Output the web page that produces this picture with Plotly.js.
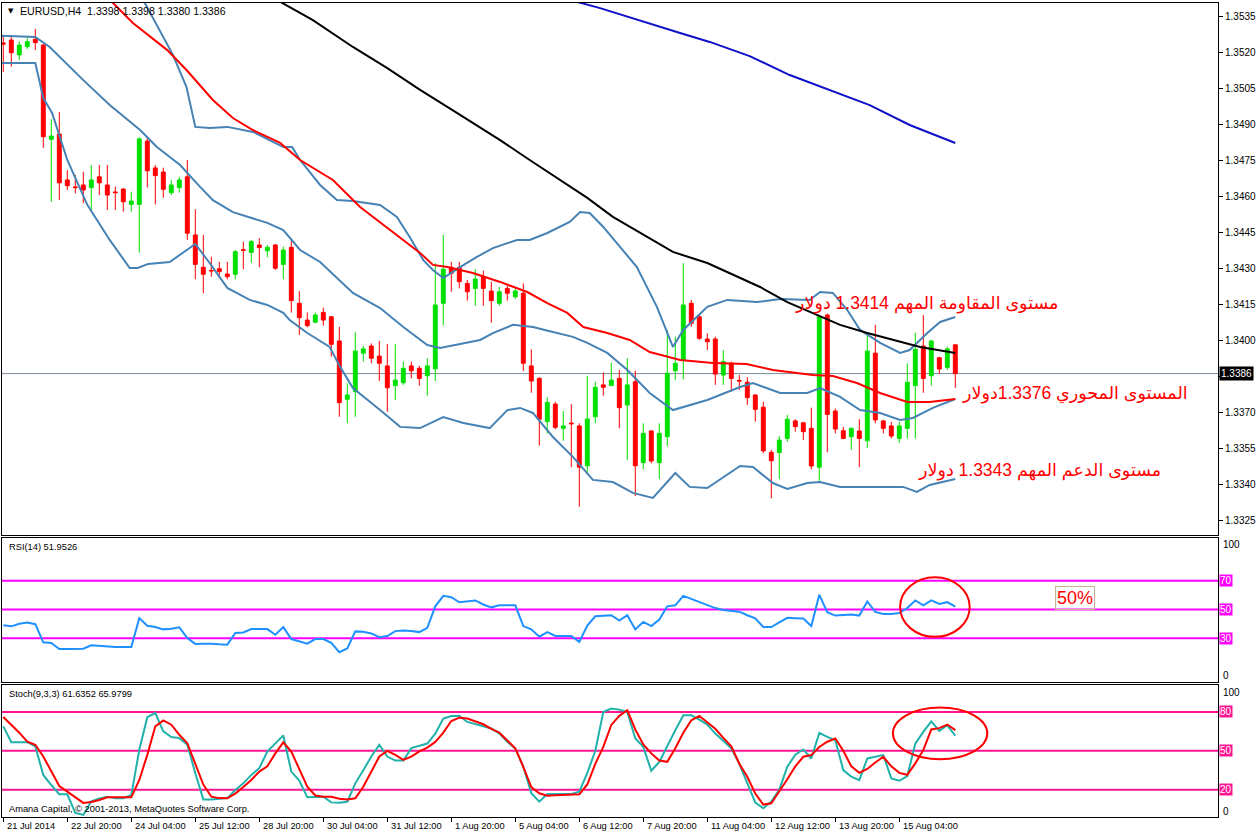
<!DOCTYPE html>
<html><head><meta charset="utf-8">
<script src="https://cdn.plot.ly/plotly-3.0.1.min.js"></script>
<style>html,body{margin:0;padding:0;background:#fff;}#chart{width:1258px;height:835px;}</style>
</head><body><div id="chart"></div>
<script>
// ---------- DATA ----------
const barIndex = Array.from({length:120},(_,i)=>i);
const openP = [1.35238,1.35250,1.35188,1.35222,1.35253,1.35229,1.34836,1.34858,1.34667,1.34638,
1.34646,1.34635,1.34680,1.34646,1.34617,1.34629,1.34565,1.34565,1.34829,1.34717,
1.34700,1.34614,1.34635,1.34680,1.34438,1.34303,1.34290,1.34297,1.34275,1.34274,
1.34376,1.34365,1.34396,1.34372,1.34396,1.34315,1.34386,1.34153,1.34083,1.34074,
1.34115,1.34097,1.33996,1.33753,1.33785,1.33945,1.33975,1.33933,1.33892,1.33810,
1.33822,1.33892,1.33882,1.33851,1.33880,1.34153,1.34303,1.34303,1.34236,1.34215,
1.34264,1.34204,1.34153,1.34215,1.34180,1.34195,1.33892,1.33840,1.33660,1.33733,
1.33632,1.33654,1.33642,1.33476,1.33680,1.33813,1.33810,1.33840,1.33729,1.33826,
1.33489,1.33621,1.33489,1.33597,1.33872,1.33917,1.34153,1.34097,1.34004,1.34004,
1.33854,1.33903,1.33832,1.33824,1.33771,1.33720,1.33532,1.33531,1.33590,1.33663,
1.33655,1.33632,1.33470,1.34104,1.33704,1.33622,1.33597,1.33621,1.33580,1.33945,
1.33663,1.33642,1.33590,1.33632,1.33810,1.33975,1.33851,1.33926,1.33886,1.33980];
const highP = [1.35267,1.35267,1.35243,1.35258,1.35296,1.35233,1.34920,1.34950,1.34708,1.34688,
1.34701,1.34729,1.34729,1.34729,1.34639,1.34632,1.34618,1.34845,1.34840,1.34729,
1.34718,1.34667,1.34680,1.34750,1.34545,1.34438,1.34347,1.34326,1.34326,1.34375,
1.34410,1.34417,1.34424,1.34396,1.34400,1.34389,1.34424,1.34204,1.34115,1.34115,
1.34135,1.34100,1.34055,1.33820,1.34032,1.33975,1.33986,1.33996,1.33983,1.33983,
1.33910,1.33910,1.33893,1.33924,1.34320,1.34438,1.34326,1.34326,1.34250,1.34295,
1.34289,1.34243,1.34222,1.34225,1.34215,1.34236,1.33961,1.33845,1.33761,1.33743,
1.33704,1.33733,1.33653,1.33851,1.33826,1.33864,1.33905,1.33875,1.33924,1.33872,
1.33653,1.33625,1.33653,1.34042,1.34014,1.34320,1.34167,1.34104,1.34028,1.34014,
1.33958,1.33910,1.33854,1.33845,1.33774,1.33743,1.33542,1.33600,1.33688,1.33670,
1.33659,1.33718,1.34100,1.34110,1.33715,1.33639,1.33635,1.33670,1.34028,1.34063,
1.33667,1.33659,1.33659,1.33903,1.34030,1.34104,1.34000,1.33930,1.33972,1.33980];
const lowP = [1.35117,1.35139,1.35167,1.35213,1.35208,1.34800,1.34576,1.34583,1.34625,1.34611,
1.34570,1.34535,1.34604,1.34542,1.34542,1.34535,1.34535,1.34364,1.34636,1.34565,
1.34593,1.34604,1.34614,1.34417,1.34253,1.34195,1.34264,1.34257,1.34253,1.34253,
1.34295,1.34322,1.34303,1.34345,1.34292,1.34253,1.34114,1.34021,1.34053,1.34070,
1.34060,1.33930,1.33680,1.33653,1.33680,1.33910,1.33903,1.33829,1.33701,1.33750,
1.33813,1.33840,1.33810,1.33768,1.33829,1.34060,1.34201,1.34215,1.34164,1.34143,
1.34143,1.34072,1.34143,1.34164,1.34171,1.33871,1.33780,1.33560,1.33611,1.33628,
1.33580,1.33470,1.33305,1.33438,1.33653,1.33768,1.33808,1.33632,1.33500,1.33350,
1.33461,1.33486,1.33420,1.33558,1.33833,1.33836,1.34055,1.34000,1.33958,1.33813,
1.33813,1.33785,1.33792,1.33729,1.33660,1.33528,1.33340,1.33420,1.33576,1.33618,
1.33583,1.33461,1.33410,1.33532,1.33611,1.33586,1.33542,1.33470,1.33549,1.33653,
1.33611,1.33590,1.33572,1.33590,1.33590,1.33780,1.33810,1.33858,1.33875,1.33800];
const closeP = [1.35233,1.35197,1.35229,1.35243,1.35239,1.34847,1.34850,1.34655,1.34643,1.34635,
1.34625,1.34667,1.34655,1.34604,1.34614,1.34576,1.34579,1.34838,1.34705,1.34685,
1.34628,1.34646,1.34667,1.34445,1.34315,1.34274,1.34288,1.34285,1.34264,1.34368,
1.34374,1.34410,1.34385,1.34386,1.34299,1.34375,1.34164,1.34093,1.34060,1.34104,
1.34083,1.33982,1.33739,1.33771,1.33954,1.33963,1.33924,1.33903,1.33801,1.33833,
1.33882,1.33872,1.33840,1.33892,1.34146,1.34295,1.34278,1.34243,1.34201,1.34254,
1.34215,1.34164,1.34201,1.34195,1.34204,1.33903,1.33829,1.33670,1.33740,1.33636,
1.33642,1.33651,1.33470,1.33671,1.33803,1.33803,1.33833,1.33718,1.33813,1.33476,
1.33611,1.33496,1.33611,1.33861,1.33903,1.34146,1.34070,1.34007,1.33993,1.33858,
1.33910,1.33840,1.33829,1.33760,1.33711,1.33538,1.33497,1.33583,1.33670,1.33639,
1.33618,1.33475,1.34097,1.33690,1.33629,1.33590,1.33632,1.33590,1.33954,1.33667,
1.33632,1.33600,1.33642,1.33824,1.33961,1.33840,1.33996,1.33879,1.33963,1.33860];

// Bollinger bands (upper / middle / lower), read at bar positions
const bbUpperX = [15,17.5,21.2,22.9,24,25.8,28,31.2,35,36.1,37.1,39.6,41.7,43.7,47.1,49.2,50.8,52.5,53.7,55,57.1,59.2,61.2,64.2,65.8,68,70.8,72.1,73.3,75,77.1,79.2,81.7,83.7,85,88,90.5,94.2,97.1,100.8,102.1,103.7,105.5,107.1,109.6,112.1,113.3,115.5,117.1,119];
const bbUpperY = [1.35570,1.35417,1.35188,1.35054,1.34888,1.34883,1.34888,1.34867,1.34804,1.34804,1.34750,1.34646,1.34583,1.34579,1.34563,1.34513,1.34429,1.34333,1.34292,1.34258,1.34304,1.34346,1.34383,1.34417,1.34417,1.34446,1.34492,1.34533,1.34529,1.34471,1.34388,1.34304,1.34138,1.33971,1.34042,1.34138,1.34167,1.34158,1.34171,1.34167,1.34200,1.34196,1.34125,1.34042,1.33988,1.33946,1.33958,1.34029,1.34075,1.34096];
const bbMidX = [-0.5,4,5.8,10,13.3,17.1,19.2,22.1,24.6,26.2,28.7,33,35,37.1,39.6,43.7,47.1,50,53,54.6,59.6,61.2,63.7,66.2,68.7,71.2,73,75.5,78,80.8,83.7,88,92.1,93.7,97.1,100.5,102.1,104.6,107.1,109.6,112.1,113.7,116.2,119];
const bbMidY = [1.35268,1.35263,1.35221,1.35083,1.34979,1.34875,1.34804,1.34729,1.34638,1.34583,1.34533,1.34488,1.34458,1.34375,1.34325,1.34196,1.34133,1.34054,1.33979,1.33967,1.34000,1.34029,1.34063,1.34054,1.34033,1.34013,1.33988,1.33946,1.33875,1.33779,1.33708,1.33750,1.33804,1.33821,1.33779,1.33779,1.33800,1.33763,1.33708,1.33696,1.33667,1.33675,1.33717,1.33754];
const bbLowX = [-0.5,4,5,6.1,8,10.5,13.3,15.8,16.8,18.1,20.8,24,25.8,28,30.8,33,35,35.8,38,40.8,42.1,43.7,47.1,49.6,52.1,55,57.5,60.8,63,64.6,66.2,68.7,71.2,73.7,76.2,78.7,81.2,84,85.8,88,92.1,93.7,96.2,98,100.5,102.1,104.6,108.7,112.5,114.2,115.8,119];
const bbLowY = [1.35154,1.35154,1.35008,1.34946,1.34750,1.34563,1.34417,1.34300,1.34300,1.34317,1.34325,1.34400,1.34321,1.34217,1.34167,1.34146,1.34113,1.34083,1.34029,1.33971,1.33888,1.33800,1.33708,1.33638,1.33633,1.33679,1.33654,1.33633,1.33708,1.33717,1.33696,1.33596,1.33513,1.33417,1.33408,1.33363,1.33342,1.33446,1.33388,1.33383,1.33475,1.33471,1.33404,1.33379,1.33404,1.33408,1.33388,1.33388,1.33388,1.33367,1.33396,1.33421];

// moving averages
const maRedX = [10,16.2,20.5,22.9,26.2,28.7,31.2,34.6,37.1,41.2,44.6,48.3,52.1,53.7,55.5,58.7,62.1,65.5,68,70.5,72.5,75.5,78.3,80.8,84.6,88.7,92.9,96.2,101.2,103.7,106.7,109.6,113,115.8,119];
const maRedY = [1.35529,1.35321,1.35208,1.35125,1.35000,1.34925,1.34875,1.34821,1.34750,1.34667,1.34554,1.34458,1.34363,1.34313,1.34304,1.34279,1.34242,1.34200,1.34154,1.34113,1.34054,1.34029,1.34000,1.33950,1.33917,1.33904,1.33900,1.33875,1.33854,1.33850,1.33821,1.33779,1.33742,1.33742,1.33754];
const maBlackX = [30,34.2,38.7,43.7,48,52.1,57.1,62.1,65.8,69.6,73,76.2,79.6,83.7,88,91.2,94.6,98,101.2,104.6,108,111.2,114.6,119];
const maBlackY = [1.35533,1.35417,1.35333,1.35221,1.35133,1.35042,1.34938,1.34833,1.34750,1.34667,1.34592,1.34513,1.34446,1.34367,1.34321,1.34271,1.34221,1.34158,1.34113,1.34063,1.34029,1.34000,1.33971,1.33946];
const maBlueX = [66,71.8,74.6,80.8,84.6,88.3,93.3,98.3,103.3,108.3,113.3,119];
const maBlueY = [1.35467,1.35408,1.35383,1.35317,1.35279,1.35242,1.35183,1.35104,1.35042,1.34979,1.34896,1.34821];

// RSI(14)
const rsiVals = [39.0,38.3,40.1,41.0,39.8,27.2,26.8,22.6,22.6,22.6,22.8,25.2,24.7,24.0,24.0,24.0,24.0,44.0,38.7,37.8,
36.2,36.6,37.6,30.2,26.1,26.2,26.3,25.8,25.6,33.7,34.1,36.4,36.4,36.4,32.5,37.8,29.5,27.9,26.3,29.5,
29.5,26.8,20.3,23.0,34.8,34.5,33.4,30.8,31.6,35.0,35.5,35.0,34.3,37.3,52.2,59.5,58.5,55.0,55.5,56.3,
53.5,51.5,52.9,52.9,52.9,38.5,36.2,31.1,34.3,31.6,31.6,31.6,27.5,38.9,45.3,45.6,46.0,42.3,46.0,36.2,
41.4,38.5,43.0,52.2,52.9,59.5,57.5,55.5,53.0,51.0,49.6,49.0,48.5,46.0,43.8,37.8,37.8,41.0,44.2,44.0,
43.7,38.5,60.2,48.1,45.8,46.2,46.5,45.8,55.6,48.3,46.9,46.9,47.5,51.0,56.3,52.9,56.3,53.8,55.1,51.95];
const rsiLevels = [70,50,30];

// Stochastic(9,3,3): main and signal
const stochMain = [68.9,56.7,56.7,56.7,53.4,31.4,23.6,16.4,16.4,2.0,0.5,11.0,13.3,14.6,13.3,13.3,15.9,50.8,76.0,79.2,
65.0,60.6,59.8,54.7,32.7,12.5,12.5,12.8,13.5,19.7,24.9,31.4,36.6,49.5,55.9,61.9,34.0,27.0,14.1,14.6,
14.6,10.2,10.0,10.7,24.9,35.0,45.6,54.7,45.6,42.5,42.5,52.1,54.0,55.6,63.3,74.9,76.9,76.9,72.3,70.5,
69.0,67.2,63.5,57.0,51.8,37.7,17.2,10.8,16.7,16.7,16.7,16.7,18.5,33.0,50.0,80.0,82.6,81.8,80.0,59.5,
53.1,34.6,41.5,54.0,65.9,77.4,77.4,74.0,70.3,63.3,58.0,52.0,40.0,25.0,10.0,5.6,10.8,20.0,37.7,47.0,
51.0,44.1,63.8,60.8,58.2,35.1,30.0,27.4,44.1,45.5,46.7,28.7,26.9,30.5,55.6,64.6,72.8,65.4,69.7,61.64];
const stochSignal = [76.1,70.0,64.0,57.0,54.7,45.6,34.0,22.8,18.5,14.0,9.8,10.5,12.0,14.1,14.1,14.1,14.1,27.5,46.9,68.9,
73.5,70.2,62.4,55.9,40.4,24.0,14.6,13.5,13.3,17.0,22.0,27.5,34.0,38.0,48.0,56.5,49.5,36.0,22.3,15.5,
14.6,14.6,13.0,12.5,13.3,22.3,34.0,45.6,50.0,46.9,43.0,45.5,49.5,52.5,56.9,64.0,73.0,75.6,74.9,72.5,
70.5,67.0,64.0,58.0,52.0,37.7,22.0,17.2,15.4,15.8,16.0,16.2,16.4,24.0,40.0,53.1,70.0,77.0,81.3,66.5,
55.0,48.0,42.5,41.5,52.0,64.0,73.6,76.9,72.0,67.0,60.0,53.5,40.0,30.0,17.0,8.5,9.5,18.5,28.0,38.0,
45.4,46.7,53.0,57.0,59.5,50.0,38.0,33.0,36.0,41.0,45.4,38.0,33.0,31.5,40.3,50.5,66.5,67.5,70.3,65.98];
const stochLevels = [80,50,20];

// axis labels
const priceTicks = [1.3325,1.3340,1.3355,1.3370,1.3385,1.3400,1.3415,1.3430,1.3445,1.3460,1.3475,1.3490,1.3505,1.3520,1.3535];
const priceTickText = ["1.3325","1.3340","1.3355","1.3370","","1.3400","1.3415","1.3430","1.3445","1.3460","1.3475","1.3490","1.3505","1.3520","1.3535"];
const timeTickBars = [0,8,16,24,32,40,48,56,64,72,80,88,96,104,112];
const timeTickLabels = ["21 Jul 2014","22 Jul 20:00","24 Jul 04:00","25 Jul 12:00","28 Jul 20:00","30 Jul 04:00","31 Jul 12:00","1 Aug 20:00","5 Aug 04:00","6 Aug 12:00","7 Aug 20:00","11 Aug 04:00","12 Aug 12:00","13 Aug 20:00","15 Aug 04:00"];
const lastPrice = 1.3386;
const headerText = "EURUSD,H4  1.3398 1.3398 1.3380 1.3386";
const rsiTitle = "RSI(14) 51.9526";
const stochTitle = "Stoch(9,3,3) 61.6352 65.9799";
const copyright = "Amana Capital, © 2001-2013, MetaQuotes Software Corp.";
const noteResistance = "مستوى المقاومة المهم 1.3414 دولار";
const notePivot = "المستوى المحوري 1.3376دولار";
const noteSupport = "مستوى الدعم المهم 1.3343 دولار";
const noteRsi = "50%";

// ---------- LAYOUT HELPERS ----------
const W = 1258, H = 835;
const px = x => x / W;
const py = y => 1 - y / H;
const FONT = "Liberation Sans, Arial, DejaVu Sans, sans-serif";
const xDom = [px(2), px(1218)];
const xRange = [-0.1625, (1218 - 3.3) / 8];

const line = (x, y, color, xa, ya, w) => ({type:'scatter', mode:'lines', x:x, y:y, xaxis:xa, yaxis:ya,
  line:{color:color, width:w||2}, hoverinfo:'skip', showlegend:false});

const traces = [
  {type:'candlestick', x:barIndex, open:openP, high:highP, low:lowP, close:closeP, xaxis:'x', yaxis:'y',
   increasing:{line:{color:'#00E000', width:1}, fillcolor:'#00E000'},
   decreasing:{line:{color:'#FF0000', width:1}, fillcolor:'#FF0000'},
   whiskerwidth:0, hoverinfo:'skip', showlegend:false},
  line(bbUpperX, bbUpperY, '#4682B4', 'x', 'y'),
  line(bbMidX, bbMidY, '#4682B4', 'x', 'y'),
  line(bbLowX, bbLowY, '#4682B4', 'x', 'y'),
  line(maBlackX, maBlackY, '#000000', 'x', 'y'),
  line(maBlueX, maBlueY, '#1010C8', 'x', 'y'),
  line(maRedX, maRedY, '#FF0000', 'x', 'y'),
  line(barIndex, rsiVals, '#1E90FF', 'x2', 'y2'),
  line(barIndex, stochMain, '#20B2AA', 'x3', 'y3'),
  line(barIndex, stochSignal, '#FF0000', 'x3', 'y3')
];

const xCommon = {domain:xDom, range:xRange, showgrid:false, zeroline:false, showline:true, mirror:true,
  linecolor:'#000', linewidth:1, showticklabels:false, ticks:'', fixedrange:true};
const yCommon = {showgrid:false, zeroline:false, showline:true, mirror:true, linecolor:'#000', linewidth:1, fixedrange:true};

const shapes = [];
shapes.push({type:'line', xref:'x domain', x0:0, x1:1, yref:'y', y0:lastPrice, y1:lastPrice,
  line:{color:'#7A8A9A', width:1}, layer:'below'});
rsiLevels.forEach(v => shapes.push({type:'line', xref:'x2 domain', x0:0, x1:1, yref:'y2', y0:v, y1:v,
  line:{color:'#FF00FF', width:2}, layer:'below'}));
stochLevels.forEach(v => shapes.push({type:'line', xref:'x3 domain', x0:0, x1:1, yref:'y3', y0:v, y1:v,
  line:{color:'#FF1493', width:2}, layer:'below'}));
shapes.push({type:'circle', xref:'x2', yref:'y2', x0:112.1, x1:120.8, y0:31, y1:72.4, line:{color:'#FF0000', width:2}});
shapes.push({type:'circle', xref:'x3', yref:'y3', x0:111.2, x1:123.0, y0:43.5, y1:83.5, line:{color:'#FF0000', width:2}});

const ann = [];
const txt = (text, x, y, opts) => Object.assign({text:text, xref:'paper', yref:'paper', x:px(x), y:py(y),
  xanchor:'left', yanchor:'middle', showarrow:false, font:{family:FONT, size:9.3, color:'#000'}}, opts||{});
ann.push(txt('▼', 6, 11, {font:{family:'DejaVu Sans', size:7, color:'#000'}}));
ann.push(txt(headerText, 18, 11, {font:{family:FONT, size:10.6, color:'#000'}}));
ann.push(txt(rsiTitle, 7, 546.5));
ann.push(txt(stochTitle, 7, 694));
ann.push(txt(copyright, 7, 809));
ann.push(txt('100', 1221, 544, {font:{family:FONT, size:10, color:'#000'}}));
ann.push(txt('0', 1221, 675, {font:{family:FONT, size:10, color:'#000'}}));
ann.push(txt('100', 1221, 692, {font:{family:FONT, size:10, color:'#000'}}));
ann.push(txt('0', 1221, 811, {font:{family:FONT, size:10, color:'#000'}}));
rsiLevels.forEach(v => ann.push({text:String(v), xref:'paper', x:px(1219), yref:'y2', y:v, xanchor:'left', yanchor:'middle',
  showarrow:false, bgcolor:'#FF00FF', borderpad:0, font:{family:FONT, size:10, color:'#fff'}}));
stochLevels.forEach(v => ann.push({text:String(v), xref:'paper', x:px(1219), yref:'y3', y:v, xanchor:'left', yanchor:'middle',
  showarrow:false, bgcolor:'#FF1493', borderpad:0, font:{family:FONT, size:10, color:'#fff'}}));
ann.push({text:lastPrice.toFixed(4), xref:'paper', x:px(1219), yref:'y', y:lastPrice, xanchor:'left', yanchor:'middle',
  showarrow:false, bgcolor:'#000', borderpad:1, font:{family:FONT, size:10, color:'#fff'}});
timeTickBars.forEach((b, i) => ann.push({text:timeTickLabels[i], xref:'x3', x:b, xshift:2, yref:'paper', y:py(826),
  xanchor:'left', yanchor:'middle', showarrow:false, font:{family:FONT, size:9.3, color:'#000'}}));
const arab = {family:"Liberation Sans, DejaVu Sans, sans-serif", size:17.5, color:'#FF0000'};
ann.push(txt(noteResistance, 1060, 303, {xanchor:'right', font:arab}));
ann.push(txt(notePivot, 1190, 393, {xanchor:'right', font:arab}));
ann.push(txt(noteSupport, 1163, 470, {xanchor:'right', font:arab}));
ann.push(txt(noteRsi, 1075, 598, {xanchor:'center', font:{family:FONT, size:18, color:'#FF0000'},
  bordercolor:'#C8B48C', borderwidth:1, borderpad:1}));

const layout = {
  width:W, height:H, margin:{l:0, r:0, t:0, b:0}, paper_bgcolor:'#fff', plot_bgcolor:'rgba(0,0,0,0)',
  showlegend:false, dragmode:false, hovermode:false,
  xaxis: Object.assign({}, xCommon, {anchor:'y', rangeslider:{visible:false}}),
  xaxis2: Object.assign({}, xCommon, {anchor:'y2', matches:'x'}),
  xaxis3: Object.assign({}, xCommon, {anchor:'y3', matches:'x', ticks:'outside', ticklen:4, tickwidth:1,
     tickcolor:'#000', tickvals:timeTickBars}),
  yaxis: Object.assign({}, yCommon, {anchor:'x', domain:[py(535), py(2.5)], range:[1.331875, 1.354063], side:'right',
     tickvals:priceTicks, ticktext:priceTickText, ticks:'outside', ticklen:4, tickcolor:'#000',
     tickfont:{family:FONT, size:10, color:'#000'}}),
  yaxis2: Object.assign({}, yCommon, {anchor:'x2', domain:[py(681.5), py(537.5)], range:[0,100], showticklabels:false, ticks:''}),
  yaxis3: Object.assign({}, yCommon, {anchor:'x3', domain:[py(816.5), py(684.5)], range:[-0.7,101.2], showticklabels:false, ticks:''}),
  shapes:shapes, annotations:ann
};
Plotly.newPlot('chart', traces, layout, {staticPlot:true, displayModeBar:false});
</script></body></html>
